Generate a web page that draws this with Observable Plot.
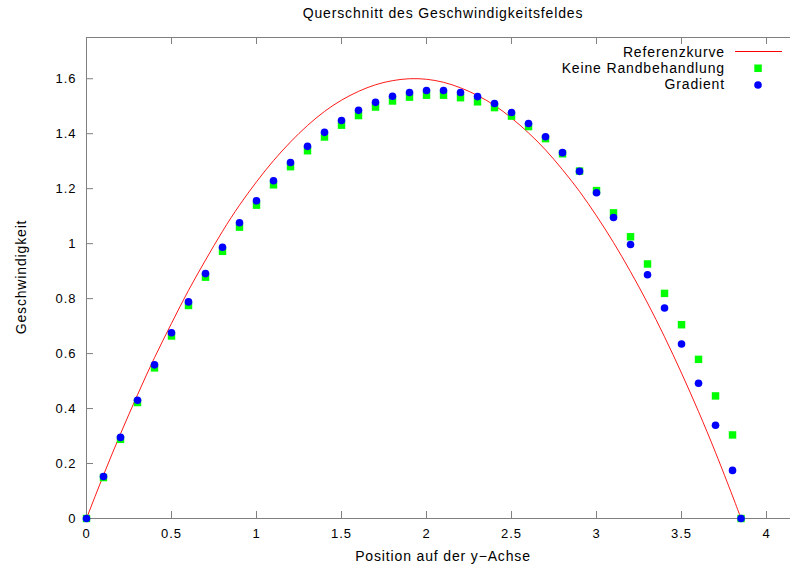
<!DOCTYPE html>
<html><head><meta charset="utf-8">
<script src="https://cdn.jsdelivr.net/npm/d3@7"></script>
<script src="https://cdn.jsdelivr.net/npm/@observablehq/plot@0.6"></script>
<style>body{margin:0;background:#fff}</style>
</head><body><div id="chart"></div>
<script>
// ---- data ----
const positions = [0,0.1,0.2,0.3,0.4,0.5,0.6,0.7,0.8,0.9,1.0,1.1,1.2,1.3,1.4,1.5,1.6,1.7,1.8,1.9,2.0,2.1,2.2,2.3,2.4,2.5,2.6,2.7,2.8,2.9,3.0,3.1,3.2,3.3,3.4,3.5,3.6,3.7,3.8,3.85];
const referenzkurve = [0,0.158,0.308,0.45,0.585,0.71,0.83,0.94,1.045,1.14,1.225,1.302,1.370,1.430,1.481,1.522,1.554,1.578,1.593,1.600,1.598,1.587,1.567,1.539,1.503,1.457,1.403,1.341,1.269,1.190,1.101,1.004,0.898,0.784,0.661,0.529,0.389,0.240,0.082,0];
const keineRandbehandlung = [0,0.149,0.288,0.422,0.548,0.664,0.775,0.878,0.972,1.060,1.140,1.214,1.280,1.338,1.388,1.431,1.466,1.497,1.519,1.533,1.540,1.540,1.531,1.516,1.495,1.464,1.426,1.382,1.327,1.264,1.193,1.112,1.025,0.926,0.819,0.705,0.579,0.446,0.304,0];
const gradient = [0,0.153,0.295,0.430,0.559,0.676,0.788,0.891,0.987,1.076,1.156,1.229,1.295,1.354,1.405,1.448,1.485,1.514,1.536,1.550,1.557,1.557,1.550,1.535,1.510,1.477,1.437,1.389,1.331,1.263,1.185,1.095,0.997,0.887,0.766,0.635,0.492,0.339,0.175,0];
const xTicks = [0,0.5,1,1.5,2,2.5,3,3.5,4];
const yTicks = [0,0.2,0.4,0.6,0.8,1,1.2,1.4,1.6];
const xDomain = [0, 4.141];
const yDomain = [0, 1.75];
const titleText = "Querschnitt des Geschwindigkeitsfeldes";
const xLabel = "Position auf der y\u2212Achse";
const yLabel = "Geschwindigkeit";
const seriesNames = ["Referenzkurve", "Keine Randbehandlung", "Gradient"];

// ---- tables ----
const refData = positions.map((x, i) => ({x, y: referenzkurve[i]}));
const keineData = positions.map((x, i) => ({x, y: keineRandbehandlung[i]}));
const gradData = positions.map((x, i) => ({x, y: gradient[i]}));

// ---- layout ----
const W = 790, H = 567, mL = 86, mR = 0, mT = 37, mB = 49;
const innerW = W - mL - mR, innerH = H - mT - mB;
const tk = 7;
const axisColor = "#808080";
const red = "#ff0000";
const font = "'Liberation Sans', Arial, Helvetica, sans-serif";

const plot = Plot.plot({
  width: W, height: H,
  marginLeft: mL, marginRight: mR, marginTop: mT, marginBottom: mB,
  style: {fontFamily: font, fontSize: "13px", background: "white", color: "black", letterSpacing: "1px"},
  x: {domain: xDomain},
  y: {domain: yDomain},
  marks: [
    // border: bottom, top, left (right edge lies outside the picture)
    Plot.ruleY([yDomain[0], yDomain[1]], {stroke: axisColor}),
    Plot.ruleX([xDomain[0]], {stroke: axisColor}),
    Plot.ruleX(xTicks, {insetTop: innerH - tk, stroke: axisColor}),
    Plot.ruleX(xTicks, {insetBottom: innerH - tk, stroke: axisColor}),
    Plot.ruleY(yTicks, {insetRight: innerW - tk, stroke: axisColor}),
    Plot.axisX({ticks: xTicks, tickSize: 0, tickPadding: 10, tickFormat: d => String(d), label: null}),
    Plot.axisY({ticks: yTicks, tickSize: 0, tickPadding: 10, tickFormat: d => String(d), label: null}),
    Plot.line(refData, {x: "x", y: "y", stroke: red, strokeWidth: 0.9, curve: "natural"}),
    Plot.dot(keineData, {x: "x", y: "y", symbol: "square", r: 4.2, fill: "#00ff00", stroke: "none"}),
    Plot.dot(gradData, {x: "x", y: "y", symbol: "circle", r: 3.8, fill: "#0000ff", stroke: "none"})
  ]
});

const svg = d3.select(plot);
const txt = (x, y, s, anchor) => svg.append("text")
  .attr("x", x).attr("y", y).attr("text-anchor", anchor)
  .attr("font-family", font).attr("font-size", 14).attr("letter-spacing", "0.85px")
  .attr("fill", "black").text(s);

txt(443, 17.5, titleText, "middle");
txt(443, 561, xLabel, "middle");
txt(0, 0, yLabel, "middle").attr("transform", "translate(26,277) rotate(-90)");

// legend
txt(725, 56.5, seriesNames[0], "end");
txt(725, 72.5, seriesNames[1], "end");
txt(725, 89, seriesNames[2], "end");
svg.append("rect").attr("x", 735).attr("y", 51).attr("width", 47).attr("height", 1).attr("fill", red);
svg.append("rect").attr("x", 754.3).attr("y", 64.5).attr("width", 7.5).attr("height", 7.5).attr("fill", "#00ff00");
svg.append("circle").attr("cx", 758).attr("cy", 85).attr("r", 3.8).attr("fill", "#0000ff");

document.getElementById("chart").appendChild(plot);
</script>
</body></html>
